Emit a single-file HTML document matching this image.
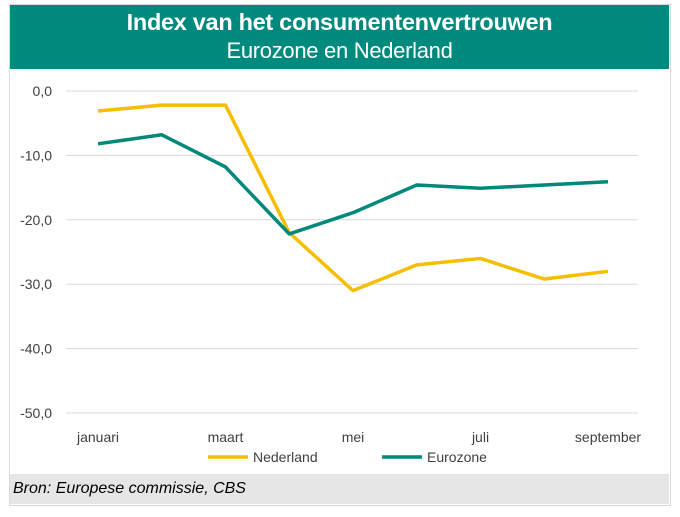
<!DOCTYPE html>
<html><head><meta charset="utf-8"><style>
body{margin:0;background:#fff;width:680px;height:517px;overflow:hidden;font-family:"Liberation Sans",sans-serif}
#frame{position:absolute;left:9px;top:4px;width:660px;height:500px;border:1px solid #d9d9d9}
#title{position:absolute;left:10px;top:5px;width:659px;height:64px;background:#008A7E;color:#fff;text-align:center}
#t1{font-size:23.5px;font-weight:bold;margin-top:4px;letter-spacing:-0.3px}
#t2{font-size:22px;margin-top:2px;letter-spacing:-0.3px}
#foot{position:absolute;left:10px;top:474px;width:659px;height:30px;background:#e6e6e6;font-style:italic;font-size:16px;line-height:30px;padding-left:3px;box-sizing:border-box}
svg{position:absolute;left:0;top:0}
</style></head><body>
<div id="frame"></div>
<div id="title"><div id="t1">Index van het consumentenvertrouwen</div><div id="t2">Eurozone en Nederland</div></div>
<svg id="c" width="680" height="517"></svg>
<div id="foot">Bron: Europese commissie, CBS</div>
<script>
const months=["januari","februari","maart","april","mei","juni","juli","augustus","september"];
const nederland=[-3.1,-2.2,-2.2,-22,-31,-27,-26,-29.2,-28];
const eurozone=[-8.2,-6.8,-11.8,-22.2,-18.9,-14.6,-15.1,-14.6,-14.1];
const yTicks=[0,-10,-20,-30,-40,-50];
const tickLabels=["0,0","-10,0","-20,0","-30,0","-40,0","-50,0"];
const NS="http://www.w3.org/2000/svg",svg=document.getElementById('c');
const x=i=>98+i*63.75, y=v=>91-v*6.44;
function mk(t,a){const e=document.createElementNS(NS,t);for(const k in a)e.setAttribute(k,a[k]);svg.appendChild(e);return e;}
yTicks.forEach((v,i)=>{
 const l=mk('line',{x1:66,x2:638,y1:y(v),y2:y(v),stroke:'#d9d9d9','stroke-width':1});
 
 
 const t=mk('text',{x:52,y:y(v)+5,'text-anchor':'end','font-size':14,fill:'#404040'});t.textContent=tickLabels[i];
 
 
});
months.forEach((m,i)=>{if(i%2)return;
 const t=mk('text',{x:x(i),y:442,'text-anchor':'middle','font-size':14,fill:'#404040'});t.textContent=m;
 
 
});
function line(d,c,n){const p=mk('polyline',{points:d.map((v,i)=>x(i)+','+y(v)).join(' '),fill:'none',stroke:c,'stroke-width':3.5,'stroke-linejoin':'round'});
 
 }
line(nederland,'#F5BE00','nederland-line');
line(eurozone,'#00897B','eurozone-line');
[[208,'#F5BE00','Nederland'],[382,'#00897B','Eurozone']].forEach(([lx,c,n])=>{
 const g=mk('line',{x1:lx,x2:lx+40,y1:457,y2:457,stroke:c,'stroke-width':3.5});
 
 
 const t=mk('text',{x:lx+45,y:462,'font-size':14,fill:'#404040'});t.textContent=n;
 
 
});
</script>
</body></html>
